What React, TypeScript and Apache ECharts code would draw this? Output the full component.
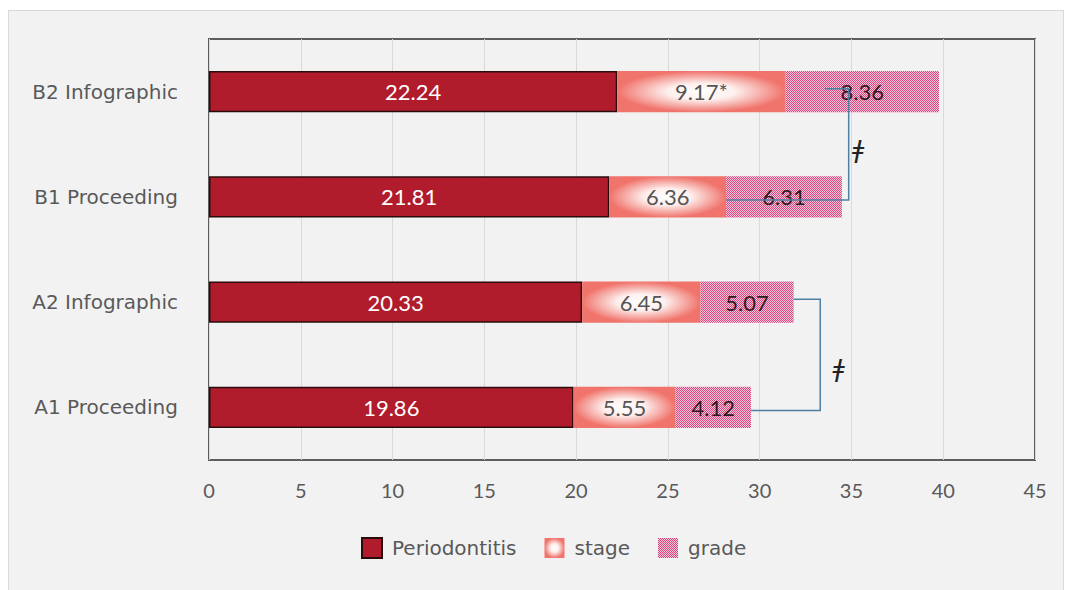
import React, { useEffect, useRef } from 'react';
import * as echarts from 'echarts';

// Categories are listed bottom to top, as the category axis draws them.
const categories = ['A1 Proceeding', 'A2 Infographic', 'B1 Proceeding', 'B2 Infographic'];
const periodontitis = [19.86, 20.33, 21.81, 22.24];
const stage = [5.55, 6.45, 6.36, 9.17];
const grade = [4.12, 5.07, 6.31, 8.36];
const stageNotes = ['', '', '', '*'];
const seriesNames = ['Periodontitis', 'stage', 'grade'];

const xMin = 0;
const xMax = 45;
const xStep = 5;

// Significance brackets: lower category, upper category, x of the vertical,
// x where the lower arm starts, x where the upper arm starts,
// x of the mark and its fraction of the way from the lower to the upper arm.
const brackets = [
  [0, 1, 33.3, 29.53, 31.85, 34.3, 0.38],
  [2, 3, 34.85, 28.17, 33.55, 35.35, 0.45],
];
const bracketMark = 'ǂ';

const GREY = '#595959';

function makeDotPattern() {
  const c = document.createElement('canvas');
  c.width = 2;
  c.height = 2;
  const ctx = c.getContext('2d')!;
  ctx.fillStyle = '#f7c8d9';
  ctx.fillRect(0, 0, 2, 2);
  ctx.fillStyle = '#db4580';
  ctx.fillRect(0, 0, 1, 1);
  ctx.fillRect(1, 1, 1, 1);
  return { image: c, repeat: 'repeat', imageWidth: 2, imageHeight: 2 };
}

export default function App() {
  const ref = useRef<HTMLDivElement>(null);

  useEffect(() => {
    if (!ref.current) return;
    const chart = echarts.init(ref.current, undefined, { renderer: 'svg' });

    const stageFill = {
      type: 'radial',
      x: 0.5,
      y: 0.5,
      r: 0.5,
      colorStops: [
        { offset: 0, color: '#ffffff' },
        { offset: 0.4, color: '#fdf0ee' },
        { offset: 1, color: '#f0746c' },
      ],
    };
    const gradeFill = makeDotPattern();

    const barLabel = (color: string, fmt: (i: number) => string) => ({
      show: true,
      position: 'inside',
      color,
      fontFamily: 'Lato',
      fontSize: 22,
      formatter: (p: any) => fmt(p.dataIndex),
    });

    const option: any = {
      animation: false,
      backgroundColor: 'transparent',
      grid: {
        left: 209,
        right: 34,
        top: 39,
        bottom: 130,
        show: true,
        borderColor: '#5e5e5e',
        borderWidth: 2,
        backgroundColor: 'transparent',
      },
      legend: {
        data: seriesNames,
        left: 356,
        top: 532,
        itemWidth: 20,
        itemHeight: 20,
        itemGap: 28,
        icon: 'rect',
        textStyle: {
          color: GREY,
          fontSize: 20,
          fontFamily: 'DejaVu Sans',
          padding: [0, 0, 0, 5],
        },
      },
      xAxis: {
        type: 'value',
        min: xMin,
        max: xMax,
        interval: xStep,
        axisLine: { show: false },
        axisTick: { show: false },
        splitLine: { show: true, lineStyle: { color: '#d9d9d9', width: 1 } },
        axisLabel: {
          color: GREY,
          fontFamily: 'Lato',
          fontSize: 20,
          margin: 20,
        },
      },
      yAxis: {
        type: 'category',
        data: categories,
        axisLine: { show: false },
        axisTick: { show: false },
        axisLabel: {
          color: GREY,
          fontFamily: 'DejaVu Sans',
          fontSize: 20,
          margin: 31,
        },
      },
      series: [
        {
          name: seriesNames[0],
          type: 'bar',
          stack: 'total',
          barWidth: '39%',
          data: periodontitis,
          itemStyle: { color: '#b11c2c', borderColor: '#2a0c0c', borderWidth: 1.5 },
          label: barLabel('#ffffff', (i) => periodontitis[i].toFixed(2)),
        },
        {
          name: seriesNames[1],
          type: 'bar',
          stack: 'total',
          barWidth: '39%',
          data: stage,
          itemStyle: { color: stageFill },
          label: barLabel('#555555', (i) => stage[i].toFixed(2) + stageNotes[i]),
        },
        {
          name: seriesNames[2],
          type: 'bar',
          stack: 'total',
          barWidth: '39%',
          data: grade,
          itemStyle: { color: gradeFill },
          label: barLabel('#2e1a22', (i) => grade[i].toFixed(2)),
        },
        {
          type: 'custom',
          z: 10,
          silent: true,
          dimensions: [
            { name: 'lo', type: 'ordinal' },
            { name: 'hi', type: 'ordinal' },
            { name: 'xr', type: 'float' },
            { name: 'xl', type: 'float' },
            { name: 'xh', type: 'float' },
            { name: 'sx', type: 'float' },
            { name: 'st', type: 'float' },
          ],
          encode: { x: ['xr', 'xl', 'xh', 'sx'], y: ['lo', 'hi'] },
          data: brackets,
          renderItem: (params: any, api: any) => {
            const lo = api.value(0);
            const hi = api.value(1);
            const xr = api.value(2);
            const loStart = api.coord([api.value(3), lo]);
            const loEnd = api.coord([xr, lo]);
            const hiStart = api.coord([api.value(4), hi]);
            const hiEnd = api.coord([xr, hi]);
            const sx = api.coord([api.value(5), lo])[0];
            const yLo = loEnd[1] + 3;
            const yHi = hiEnd[1] - 3;
            const sy = yLo + api.value(6) * (yHi - yLo);
            return {
              type: 'group',
              children: [
                {
                  type: 'polyline',
                  shape: {
                    points: [
                      [loStart[0], yLo],
                      [loEnd[0], yLo],
                      [hiEnd[0], yHi],
                      [hiStart[0], yHi],
                    ],
                  },
                  style: { stroke: '#4f80a3', lineWidth: 1.5, fill: 'none' },
                },
                {
                  type: 'text',
                  x: sx,
                  y: sy,
                  style: {
                    text: bracketMark,
                    font: 'italic 25px "DejaVu Sans"',
                    fill: '#222222',
                    align: 'center',
                    verticalAlign: 'middle',
                  },
                },
              ],
            };
          },
        },
      ],
    };

    chart.setOption(option);
    return () => chart.dispose();
  }, []);

  return (
    <div style={{ position: 'fixed', left: 0, top: 0, width: 1069, height: 590, background: '#ffffff' }}>
      <div
        style={{
          position: 'absolute',
          left: 8,
          top: 10,
          width: 1054,
          height: 590,
          background: '#f2f2f2',
          border: '1px solid #d9d9d9',
        }}
      />
      <div ref={ref} style={{ position: 'absolute', left: 0, top: 0, width: 1069, height: 590 }} />
    </div>
  );
}
